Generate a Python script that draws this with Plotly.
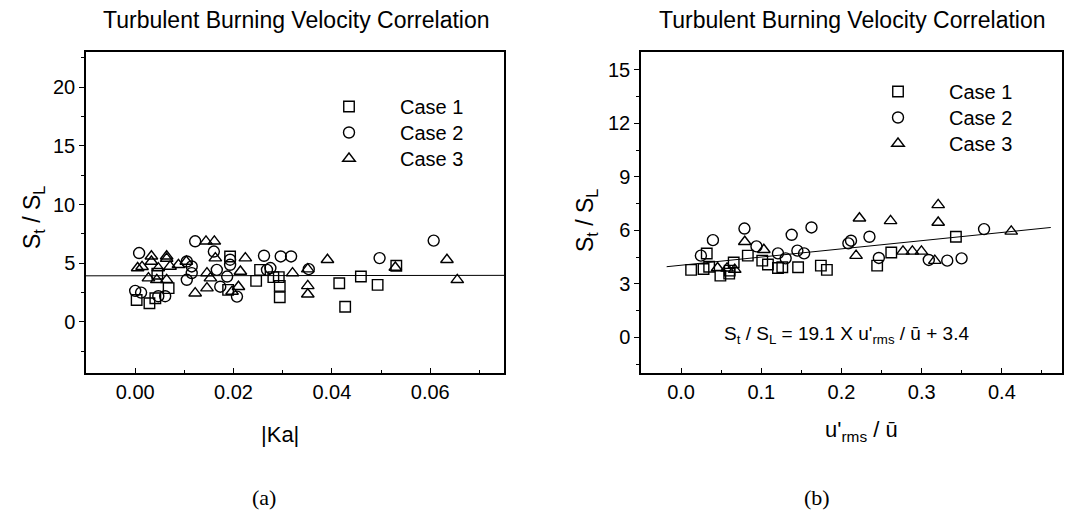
import plotly.graph_objects as go

# ---------------- Panel (a): St/SL vs |Ka| ----------------
a_case1_x = [0.0003, 0.0029, 0.0041, 0.0068, 0.0045, 0.0189, 0.0193, 0.0246, 0.0254, 0.0281,
             0.0292, 0.0294, 0.0294, 0.0415, 0.0427, 0.0459, 0.0493, 0.0531]
a_case1_y = [1.87, 1.59, 2.02, 2.88, 4.1, 2.73, 5.58, 3.5, 4.44, 3.82,
             3.82, 3.07, 2.1, 3.3, 1.3, 3.87, 3.16, 4.79]

a_case2_x = [0.0008, 0.0, 0.0012, 0.0047, 0.0061, 0.0122, 0.016, 0.0105, 0.0115, 0.0115,
             0.0105, 0.0166, 0.0173, 0.0193, 0.0193, 0.0187, 0.0207, 0.0262, 0.0268, 0.0275,
             0.0296, 0.0317, 0.0353, 0.0497, 0.0607]
a_case2_y = [5.87, 2.65, 2.5, 2.19, 2.19, 6.87, 6.0, 5.15, 4.73, 4.16,
             3.59, 4.44, 3.0, 5.3, 4.87, 3.87, 2.16, 5.64, 4.44, 4.59,
             5.58, 5.58, 4.5, 5.44, 6.93]

a_case3_x = [0.0005, 0.0014, 0.0033, 0.0033, 0.0064, 0.0064, 0.0047, 0.0027, 0.0044, 0.0064,
             0.0071, 0.0088, 0.0104, 0.0144, 0.0161, 0.0163, 0.0146, 0.0153, 0.0122, 0.0146,
             0.0214, 0.0224, 0.0210, 0.0197, 0.0320, 0.0351, 0.0351, 0.0351, 0.0391, 0.0529,
             0.0634, 0.0655]
a_case3_y = [4.6, 4.7, 5.6, 5.15, 5.6, 5.4, 4.59, 3.73, 3.59, 3.59,
             4.73, 4.87, 5.15, 6.87, 6.87, 5.44, 4.16, 3.73, 2.45, 2.88,
             4.3, 5.44, 3.0, 2.59, 4.16, 4.5, 3.07, 2.36, 5.3, 4.64,
             5.3, 3.59]

a_fit_x = [-0.01, 0.075]
a_fit_y = [3.93, 3.97]

# ---------------- Panel (b): St/SL vs u'rms/u ----------------
b_case1_x = [0.0125, 0.028, 0.032, 0.035, 0.049, 0.0606, 0.0656, 0.0832, 0.1012, 0.1083,
             0.1208, 0.1262, 0.1459, 0.1743, 0.1818, 0.2445, 0.2621, 0.3427, 0.060]
b_case1_y = [3.78, 3.83, 4.7, 3.96, 3.46, 3.74, 4.2, 4.58, 4.3, 4.08,
             3.89, 3.93, 3.93, 4.02, 3.78, 4.02, 4.76, 5.64, 3.57]

b_case2_x = [0.0247, 0.0397, 0.079, 0.094, 0.1208, 0.1304, 0.1379, 0.145, 0.1534, 0.1626,
             0.2086, 0.2119, 0.2349, 0.2466, 0.3089, 0.3319, 0.3498, 0.3778]
b_case2_y = [4.58, 5.45, 6.1, 5.1, 4.71, 4.43, 5.75, 4.86, 4.71, 6.16,
             5.27, 5.42, 5.64, 4.45, 4.34, 4.3, 4.43, 6.07]

b_case3_x = [0.0455, 0.0573, 0.0669, 0.0794, 0.1032, 0.2182, 0.2224, 0.2612, 0.2767, 0.2884,
             0.2997, 0.3164, 0.3206, 0.3206, 0.4117]
b_case3_y = [3.89, 3.87, 3.8, 5.36, 4.91, 4.58, 6.68, 6.53, 4.82, 4.82,
             4.82, 4.3, 6.44, 7.43, 5.94]

b_fit_x = [-0.018, 0.461]
b_fit_y = [3.96, 6.16]

case_names = ["Case 1", "Case 2", "Case 3"]
title_text = "Turbulent Burning Velocity Correlation"
formula_text = "S<sub>t</sub> / S<sub>L</sub> = 19.1 X u'<sub>rms</sub> / ū + 3.4"

FONT = "Liberation Sans, Arial, sans-serif"
SERIF = "Liberation Serif, Times New Roman, serif"
W, H = 1065, 516


def px(x):
    return x / W


def py(y):
    return 1 - y / H


symbols = ["square-open", "circle-open", "triangle-up-open"]
sizes = [10.5, 11, 11]

fig = go.Figure()

panel_a = [(a_case1_x, a_case1_y), (a_case2_x, a_case2_y), (a_case3_x, a_case3_y)]
panel_b = [(b_case1_x, b_case1_y), (b_case2_x, b_case2_y), (b_case3_x, b_case3_y)]

fig.add_trace(go.Scatter(x=a_fit_x, y=a_fit_y, mode="lines", line=dict(color="black", width=1),
                         showlegend=False, xaxis="x", yaxis="y"))
fig.add_trace(go.Scatter(x=b_fit_x, y=b_fit_y, mode="lines", line=dict(color="black", width=1),
                         showlegend=False, xaxis="x2", yaxis="y2"))

# one legend per row so row spacing matches the reference
legend_ids_a = ["legend", "legend2", "legend3"]
legend_ids_b = ["legend4", "legend5", "legend6"]

for i, (xs, ys) in enumerate(panel_a):
    fig.add_trace(go.Scatter(
        x=xs, y=ys, mode="markers", name=case_names[i], legend=legend_ids_a[i],
        marker=dict(symbol=symbols[i], size=sizes[i], color="black",
                    line=dict(color="black", width=1.4)),
        xaxis="x", yaxis="y"))

for i, (xs, ys) in enumerate(panel_b):
    fig.add_trace(go.Scatter(
        x=xs, y=ys, mode="markers", name=case_names[i], legend=legend_ids_b[i],
        marker=dict(symbol=symbols[i], size=sizes[i], color="black",
                    line=dict(color="black", width=1.4)),
        xaxis="x2", yaxis="y2"))

axis_common = dict(showline=True, linecolor="black", linewidth=1.5, mirror=True,
                   showgrid=False, zeroline=False, color="black",
                   tickfont=dict(family=FONT, size=20, color="black"))

xa_dom = [px(86), px(504)]
xb_dom = [px(641), px(1062)]
y_dom = [py(373), py(52)]

layout = dict(
    width=W, height=H,
    margin=dict(l=0, r=0, t=0, b=0),
    paper_bgcolor="white", plot_bgcolor="white",
    font=dict(family=FONT, color="black"),
    xaxis=dict(domain=xa_dom, range=[-0.01, 0.075], anchor="y",
               tickvals=[0.0, 0.02, 0.04, 0.06], tickformat=".2f",
               ticks="inside", ticklen=5, tickwidth=1.2, tickcolor="black",
               minor=dict(ticks="inside", ticklen=3, tickwidth=1, tickcolor="black",
                          tickvals=[0.01, 0.03, 0.05, 0.07]),
               **axis_common),
    yaxis=dict(domain=y_dom, range=[-4.35, 23.0], anchor="x",
               tickvals=[0, 5, 10, 15, 20],
               ticks="outside", ticklen=5, tickwidth=1.2, tickcolor="black",
               minor=dict(ticks="outside", ticklen=3, tickwidth=1, tickcolor="black",
                          tickvals=[-2.5, 2.5, 7.5, 12.5, 17.5, 22.5]),
               **axis_common),
    xaxis2=dict(domain=xb_dom, range=[-0.05, 0.475], anchor="y2",
                tickvals=[0.0, 0.1, 0.2, 0.3, 0.4], tickformat=".1f",
                ticks="inside", ticklen=5, tickwidth=1.2, tickcolor="black",
                minor=dict(ticks="inside", ticklen=3, tickwidth=1, tickcolor="black",
                           tickvals=[0.05, 0.15, 0.25, 0.35, 0.45]),
                **axis_common),
    yaxis2=dict(domain=y_dom, range=[-2.0, 16.0], anchor="x2",
                tickvals=[0, 3, 6, 9, 12, 15],
                ticks="outside", ticklen=5, tickwidth=1.2, tickcolor="black",
                minor=dict(ticks="outside", ticklen=3, tickwidth=1, tickcolor="black",
                           tickvals=[-1.5, 1.5, 4.5, 7.5, 10.5, 13.5]),
                **axis_common),
)

legend_rows_a = [106, 132, 158]
legend_rows_b = [91, 117, 143]
for lid, row in zip(legend_ids_a, legend_rows_a):
    layout[lid] = dict(x=px(298), y=py(row - 19), xanchor="left", yanchor="top",
                       font=dict(family=FONT, size=20, color="black"),
                       bgcolor="rgba(0,0,0,0)", borderwidth=0, itemwidth=92)
for lid, row in zip(legend_ids_b, legend_rows_b):
    layout[lid] = dict(x=px(847), y=py(row - 19), xanchor="left", yanchor="top",
                       font=dict(family=FONT, size=20, color="black"),
                       bgcolor="rgba(0,0,0,0)", borderwidth=0, itemwidth=92)

fig.update_layout(**layout)

ann = []
ann.append(dict(text=title_text, x=px(296), y=py(20), xref="paper", yref="paper",
                xanchor="center", yanchor="middle", showarrow=False,
                font=dict(family=FONT, size=23, color="black")))
ann.append(dict(text=title_text, x=px(852), y=py(20), xref="paper", yref="paper",
                xanchor="center", yanchor="middle", showarrow=False,
                font=dict(family=FONT, size=23, color="black")))
ann.append(dict(text="S<sub>t</sub> / S<sub>L</sub>", x=px(33), y=py(218), xref="paper", yref="paper",
                xanchor="center", yanchor="middle", showarrow=False, textangle=-90,
                font=dict(family=FONT, size=23, color="black")))
ann.append(dict(text="S<sub>t</sub> / S<sub>L</sub>", x=px(586), y=py(221), xref="paper", yref="paper",
                xanchor="center", yanchor="middle", showarrow=False, textangle=-90,
                font=dict(family=FONT, size=23, color="black")))
ann.append(dict(text="|Ka|", x=px(280), y=py(434), xref="paper", yref="paper",
                xanchor="center", yanchor="middle", showarrow=False,
                font=dict(family=FONT, size=22, color="black")))
ann.append(dict(text="u'<sub>rms</sub> / ū", x=px(861), y=py(431), xref="paper", yref="paper",
                xanchor="center", yanchor="middle", showarrow=False,
                font=dict(family=FONT, size=22, color="black")))
ann.append(dict(text=formula_text, x=px(846), y=py(335), xref="paper", yref="paper",
                xanchor="center", yanchor="middle", showarrow=False,
                font=dict(family=FONT, size=19, color="black")))
ann.append(dict(text="(a)", x=px(264), y=py(497), xref="paper", yref="paper",
                xanchor="center", yanchor="middle", showarrow=False,
                font=dict(family=SERIF, size=22, color="black")))
ann.append(dict(text="(b)", x=px(817), y=py(497), xref="paper", yref="paper",
                xanchor="center", yanchor="middle", showarrow=False,
                font=dict(family=SERIF, size=22, color="black")))
fig.update_layout(annotations=ann)

fig.write_html("out.html")
